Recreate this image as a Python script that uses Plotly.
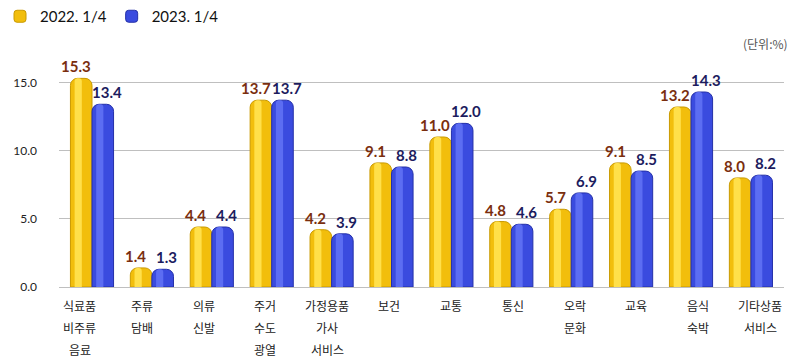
import plotly.graph_objects as go

categories = ["식료품<br>비주류<br>음료", "주류<br>담배", "의류<br>신발", "주거<br>수도<br>광열",
              "가정용품<br>가사<br>서비스", "보건", "교통", "통신", "오락<br>문화", "교육",
              "음식<br>숙박", "기타상품<br>서비스"]
cat_ids = [f"c{i}" for i in range(len(categories))]
v2022 = [15.3, 1.4, 4.4, 13.7, 4.2, 9.1, 11.0, 4.8, 5.7, 9.1, 13.2, 8.0]
v2023 = [13.4, 1.3, 4.4, 13.7, 3.9, 8.8, 12.0, 4.6, 6.9, 8.5, 14.3, 8.2]
y_ticks = [0, 5, 10, 15]

NUM_FONT = "Lato, 'Noto Sans', sans-serif"
KR_FONT = "'Noto Sans CJK KR', 'Noto Sans', sans-serif"

BW = 0.36  # bar width in category units

fig = go.Figure()
fig.add_trace(go.Bar(
    x=cat_ids, y=v2022, name="2022. 1/4", offset=-BW, width=BW,
    marker=dict(color="#F2BE0C", line=dict(color="#C99A00", width=1), cornerradius=7),
    hoverinfo="skip",
))
fig.add_trace(go.Bar(
    x=cat_ids, y=v2023, name="2023. 1/4", offset=0.0, width=BW,
    marker=dict(color="#3A4BDF", line=dict(color="#2430A8", width=1), cornerradius=7),
    hoverinfo="skip",
))
fig.add_trace(go.Bar(
    x=cat_ids, y=v2022, showlegend=False, offset=-BW + 0.07, width=0.12,
    marker=dict(color="#FFE04A", line=dict(width=0), cornerradius=4),
    hoverinfo="skip",
))
fig.add_trace(go.Bar(
    x=cat_ids, y=v2023, showlegend=False, offset=0.07, width=0.12,
    marker=dict(color="#5C6DF2", line=dict(width=0), cornerradius=4),
    hoverinfo="skip",
))

annotations = []
for cid, a, b in zip(cat_ids, v2022, v2023):
    annotations.append(dict(
        x=cid, y=a, xref="x", yref="y", text=f"{a:.1f}", showarrow=False,
        xanchor="center", yanchor="bottom", xshift=-16, yshift=1,
        font=dict(family=NUM_FONT, size=15, color="#7A2E0E", weight="bold"),
    ))
    annotations.append(dict(
        x=cid, y=b, xref="x", yref="y", text=f"{b:.1f}", showarrow=False,
        xanchor="center", yanchor="bottom", xshift=15, yshift=1,
        font=dict(family=NUM_FONT, size=15, color="#1C1C5E", weight="bold"),
    ))
# category labels sit on the front plane, which spreads slightly wider than the bars
n = len(cat_ids)
for i, (cid, cat) in enumerate(zip(cat_ids, categories)):
    persp = -13 + 1.92 * (i + 0.5)
    for j, line in enumerate(cat.split("<br>")):
        annotations.append(dict(
            x=cid, y=0, xref="x", yref="paper", text=line, showarrow=False,
            yanchor="middle", xshift=persp,
            yshift=-(18 + 22 * j), font=dict(family=KR_FONT, size=12, color="#222222"),
        ))
annotations.append(dict(
    x=1, y=1, xref="paper", yref="paper", xanchor="right", yanchor="bottom",
    text="(단위:%)", showarrow=False, yshift=8, xshift=6,
    font=dict(family=KR_FONT, size=12, color="#555555"),
))

fig.update_layout(
    width=800, height=361,
    margin=dict(l=59, r=16, t=62, b=74),
    paper_bgcolor="white", plot_bgcolor="white",
    barmode="overlay",
    showlegend=True,
    legend=dict(orientation="h", x=0.0, y=1.0, xref="container", yref="container",
                xanchor="left", yanchor="top",
                font=dict(family=NUM_FONT, size=15, color="#111111"),
                itemwidth=30, traceorder="normal"),
    xaxis=dict(showticklabels=False, showgrid=False, zeroline=False,
               showline=False, ticks=""),
    yaxis=dict(range=[0, 16.5], tickvals=y_ticks, tickformat=".1f",
               showgrid=True, gridcolor="#BFBFBF", gridwidth=1,
               zeroline=True, zerolinecolor="#BFBFBF", zerolinewidth=1,
               tickfont=dict(family=NUM_FONT, size=12, color="#222222"),
               ticks="", ticklabelstandoff=21),
    annotations=annotations,
)

fig.write_html("out.html")
